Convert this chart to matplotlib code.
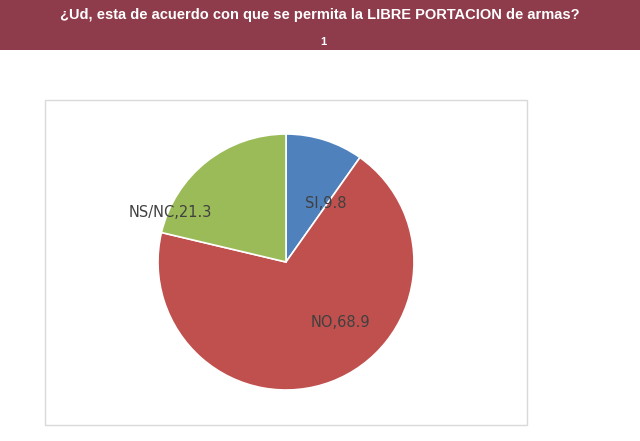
import matplotlib
matplotlib.use("Agg")
import matplotlib.pyplot as plt
from matplotlib.patches import Rectangle

categories = ["SI", "NO", "NS/NC"]
values = [9.8, 68.9, 21.3]
colors = ["#4F81BD", "#C0504D", "#9BBB59"]
title = "¿Ud, esta de acuerdo con que se permita la LIBRE PORTACION de armas?"
subtitle = "1"

W, H = 640, 441
fig = plt.figure(figsize=(6.4, 4.41), dpi=100)
fig.patch.set_facecolor("white")

# header band
fig.patches.append(Rectangle((0, 1 - 50 / H), 1, 50 / H, transform=fig.transFigure,
                             facecolor="#8E3B4C", edgecolor="none", zorder=-2))
fig.text(320 / W, 1 - 15 / H, title, color="white", fontsize=10.5, fontweight="bold",
         ha="center", va="center", family="Liberation Sans")
fig.text(323 / W, 1 - 42 / H, subtitle, color="white", fontsize=8, fontweight="bold",
         ha="center", va="center", family="Liberation Sans")

# chart box
fig.patches.append(Rectangle((45 / W, 1 - 425 / H), 482 / W, 325 / H, transform=fig.transFigure,
                             facecolor="white", edgecolor="#D9D9D9", lw=1, zorder=-1))

r = 128
cx, cy = 286, 262
ax = fig.add_axes([(cx - r) / W, 1 - (cy + r) / H, 2 * r / W, 2 * r / H])
ax.set_zorder(5)
ax.patch.set_visible(False)
wedges, texts = ax.pie(values, colors=colors, startangle=90, counterclock=False,
                       labels=[f"{c},{v}" for c, v in zip(categories, values)],
                       labeldistance=0.5,
                       wedgeprops=dict(edgecolor="white", linewidth=1.2),
                       textprops=dict(fontsize=10.5, color="#404040", family="DejaVu Sans"))
ax.set_aspect("equal")
ax.set_xlim(-1, 1); ax.set_ylim(-1, 1)
texts[0].set_position((0.15, 0.46))
texts[1].set_position((0.19, -0.47))
texts[2].set_position((-0.58, 0.39))

fig.savefig("out.png", dpi=100)
